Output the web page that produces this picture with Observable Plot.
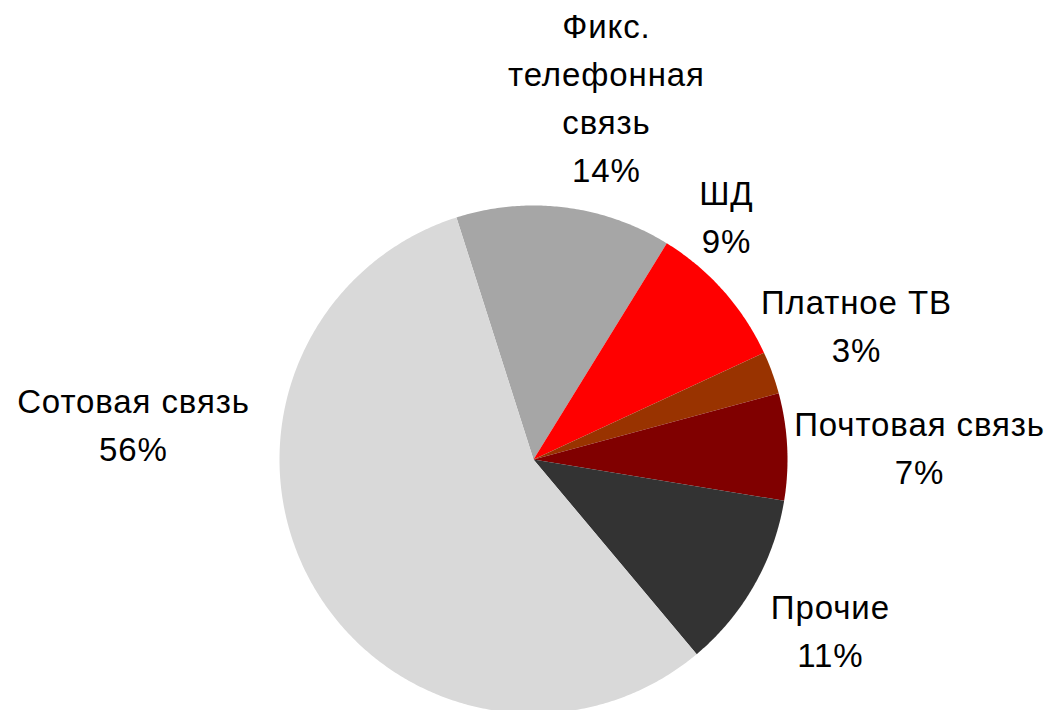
<!DOCTYPE html>
<html><head><meta charset="utf-8">
<script src="https://cdn.jsdelivr.net/npm/d3@7"></script>
<script src="https://cdn.jsdelivr.net/npm/@observablehq/plot@0.6"></script>
<style>
  html,body{margin:0;padding:0;background:#fff}
  #chart svg{display:block}
</style>
</head><body><div id="chart"></div>
<script>
// Data (order clockwise from the Сотовая/Фикс boundary)
const categories = ["Фикс.\nтелефонная\nсвязь", "ШД", "Платное ТВ", "Почтовая связь", "Прочие", "Сотовая связь"];
const shares = [13.7, 9.3, 2.7, 6.8, 11.3, 56.2];
const percentLabels = ["14%", "9%", "3%", "7%", "11%", "56%"];
const colors = ["#a6a6a6", "#ff0000", "#993300", "#800000", "#333333", "#d9d9d9"];
// Label layout (polar, in pie radii / degrees clockwise from top)
const labelRadius = [1.465, 1.231, 1.381, 1.521, 1.343, 1.582];
const labelAngle = [11.3, 38.1, 67.0, 87.8, 119.5, 275.4];
const startDeg = -17.66;

const W = 1053, H = 710, cx = 533, cy = 459, R = 254;
const a0 = startDeg * Math.PI / 180;
const arcs = d3.pie().sort(null).startAngle(a0).endAngle(a0 + 2 * Math.PI)(shares);

const points = [];
arcs.forEach((a, i) => {
  const cat = categories[i];
  points.push({cat, x: 0, y: 0});
  const n = Math.max(2, Math.ceil((a.endAngle - a.startAngle) / (Math.PI / 360)));
  for (let k = 0; k <= n; k++) {
    const t = a.startAngle + (a.endAngle - a.startAngle) * k / n;
    points.push({cat, x: Math.sin(t), y: Math.cos(t)});
  }
  points.push({cat, x: 0, y: 0});
});

const labels = categories.map((c, i) => {
  const t = labelAngle[i] * Math.PI / 180;
  return {cat: c, text: c + "\n" + percentLabels[i], x: labelRadius[i] * Math.sin(t), y: labelRadius[i] * Math.cos(t)};
});

const chart = Plot.plot({
  width: W, height: H, margin: 0,
  style: {background: "#fff", letterSpacing: "0.9px", fontFamily: "'Liberation Sans Narrow', 'Arial Narrow', 'Liberation Sans', Arial, sans-serif"},
  x: {domain: [-1, 1], range: [cx - R, cx + R], axis: null},
  y: {domain: [-1, 1], range: [cy + R, cy - R], axis: null},
  color: {domain: categories, range: colors},
  marks: [
    Plot.line(points, {x: "x", y: "y", z: "cat", fill: "cat", stroke: "none", curve: "linear"}),
    Plot.text(labels, {x: "x", y: "y", text: "text", fontSize: 33, lineHeight: 1.45, lineAnchor: "middle", textAnchor: "middle", fill: "#000"})
  ]
});
document.getElementById("chart").appendChild(chart);
</script>
</body></html>
